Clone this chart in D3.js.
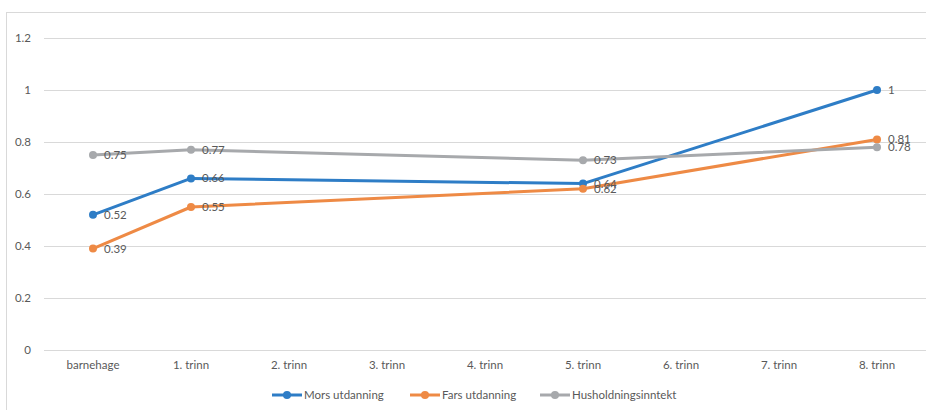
<!DOCTYPE html>
<html>
<head>
<meta charset="utf-8">
<script src="https://cdn.jsdelivr.net/npm/d3@7/dist/d3.min.js"></script>
<style>
  html, body { margin: 0; padding: 0; background: #fff; }
  svg { display: block; font-family: Lato, "Open Sans", sans-serif; }
</style>
</head>
<body>
<svg id="chart" width="926" height="410"></svg>
<script>
// Categories along the x axis
const categories = ["barnehage", "1. trinn", "2. trinn", "3. trinn", "4. trinn",
                    "5. trinn", "6. trinn", "7. trinn", "8. trinn"];
// Series values (null = no measurement at that step)
const morsUtdanning      = [0.52, 0.66, null, null, null, 0.64, null, null, 1];
const farsUtdanning      = [0.39, 0.55, null, null, null, 0.62, null, null, 0.81];
const husholdningsinntekt = [0.75, 0.77, null, null, null, 0.73, null, null, 0.78];
const seriesNames = ["Mors utdanning", "Fars utdanning", "Husholdningsinntekt"];
const yTicks = [0, 0.2, 0.4, 0.6, 0.8, 1, 1.2];

const series = [
  { name: seriesNames[0], values: morsUtdanning, color: "#2E7DC6" },
  { name: seriesNames[1], values: farsUtdanning, color: "#EE8A45" },
  { name: seriesNames[2], values: husholdningsinntekt, color: "#A7A9AC" }
];

const svg = d3.select("#chart");
const W = 926, H = 410;
const plot = { left: 44, right: 926, top: 38, bottom: 350 };
const FS = "11.5px";

// Outer chart frame
svg.append("rect")
  .attr("x", 6.5).attr("y", 12.5)
  .attr("width", W + 10).attr("height", H + 10)
  .attr("fill", "none").attr("stroke", "#D9D9D9").attr("stroke-width", 1);

const x = d3.scaleBand().domain(categories).range([plot.left, plot.right]);
const y = d3.scaleLinear().domain([0, 1.2]).range([plot.bottom, plot.top]);

// Horizontal gridlines
svg.append("g").selectAll("line").data(yTicks).join("line")
  .attr("x1", plot.left).attr("x2", plot.right)
  .attr("y1", d => Math.round(y(d)) + 0.5).attr("y2", d => Math.round(y(d)) + 0.5)
  .attr("stroke", "#D9D9D9").attr("stroke-width", 1);

// Y axis labels
const yAxis = d3.axisLeft(y).tickValues(yTicks).tickSize(0).tickPadding(0)
  .tickFormat(d => String(+d.toFixed(1)));
const gy = svg.append("g").attr("transform", `translate(31,0)`).call(yAxis);
gy.select(".domain").remove();
gy.selectAll("text").attr("fill", "#595959").style("font-size", FS)
  .style("font-family", "Lato, 'Open Sans', sans-serif");

// X axis labels
const xAxis = d3.axisBottom(x).tickSize(0).tickPadding(0);
const gx = svg.append("g").attr("transform", `translate(0,${plot.bottom + 11})`).call(xAxis);
gx.select(".domain").remove();
gx.selectAll("text").attr("fill", "#595959").style("font-size", FS)
  .style("font-family", "Lato, 'Open Sans', sans-serif");

const cx = c => x(c) + x.bandwidth() / 2;

// Lines and markers
series.forEach(s => {
  const pts = categories.map((c, i) => ({ c, v: s.values[i] })).filter(p => p.v != null);
  const line = d3.line().x(p => cx(p.c)).y(p => y(p.v));
  const g = svg.append("g");
  g.append("path").datum(pts).attr("d", line)
    .attr("fill", "none").attr("stroke", s.color).attr("stroke-width", 3)
    .attr("stroke-linejoin", "round").attr("stroke-linecap", "round");
  g.selectAll("circle").data(pts).join("circle")
    .attr("cx", p => cx(p.c)).attr("cy", p => y(p.v)).attr("r", 4)
    .attr("fill", s.color);
});
// Data labels to the right of each point
series.forEach(s => {
  const pts = categories.map((c, i) => ({ c, v: s.values[i] })).filter(p => p.v != null);
  svg.append("g").selectAll("text").data(pts).join("text")
    .attr("x", p => cx(p.c) + 11).attr("y", p => y(p.v))
    .attr("dy", "0.35em")
    .attr("fill", "#595959").style("font-size", FS)
    .text(p => String(p.v));
});

// Legend
const legendX = [272, 410, 540];
const legend = svg.append("g");
series.forEach((s, i) => {
  const lg = legend.append("g").attr("transform", `translate(${legendX[i]},395)`);
  lg.append("line").attr("x1", 0).attr("x2", 30).attr("y1", 0).attr("y2", 0)
    .attr("stroke", s.color).attr("stroke-width", 3);
  lg.append("circle").attr("cx", 15).attr("cy", 0).attr("r", 4).attr("fill", s.color);
  lg.append("text").attr("x", 32).attr("y", 0).attr("dy", "0.35em")
    .attr("fill", "#595959").style("font-size", FS).text(s.name);
});
</script>
</body>
</html>
